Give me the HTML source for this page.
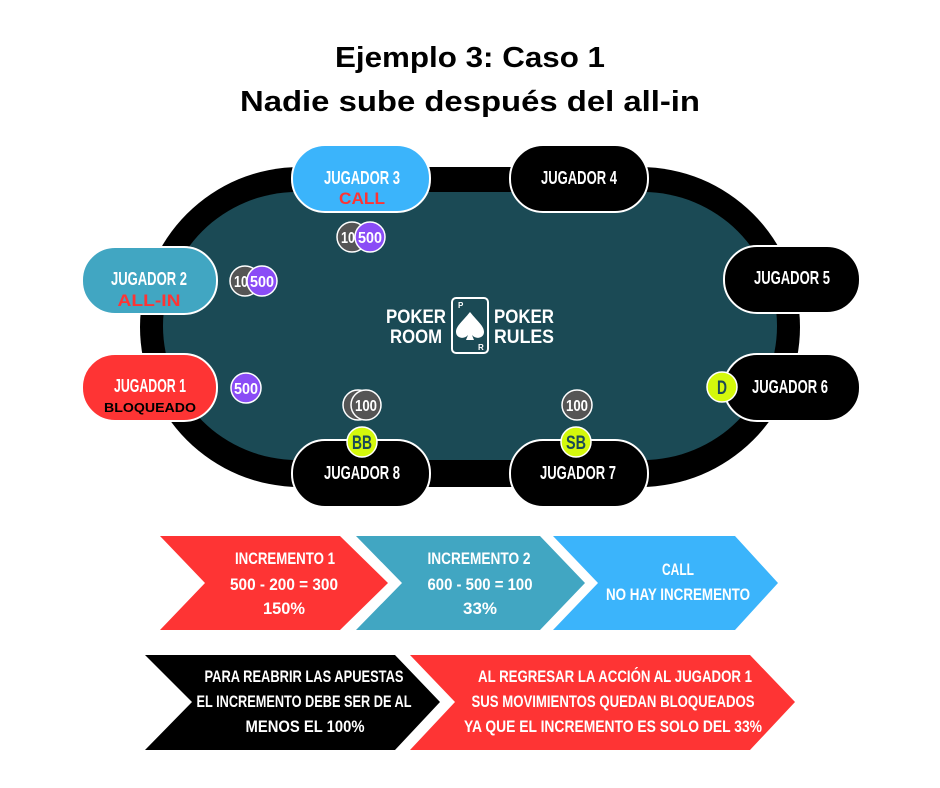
<!DOCTYPE html>
<html><head><meta charset="utf-8"><style>
html,body{margin:0;padding:0;background:#fff;}
svg{display:block}
.c{font-family:"Liberation Sans","DejaVu Sans",sans-serif;font-weight:bold;text-anchor:middle;}
</style></head><body>
<svg width="940" height="788" viewBox="0 0 940 788" xmlns="http://www.w3.org/2000/svg">
<rect width="940" height="788" fill="#fff"/>
<text x="470" y="67" font-family="Liberation Sans, sans-serif" font-weight="bold" font-size="29" text-anchor="middle" fill="#000" textLength="270" lengthAdjust="spacingAndGlyphs">Ejemplo 3: Caso 1</text>
<text x="470" y="111" font-family="Liberation Sans, sans-serif" font-weight="bold" font-size="29" text-anchor="middle" fill="#000" textLength="460" lengthAdjust="spacingAndGlyphs">Nadie sube después del all-in</text>

<rect x="140" y="167" width="660" height="320" rx="160" fill="#000"/>
<rect x="163" y="192" width="614" height="268" rx="134" fill="#1b4a55"/>

<!-- logo -->
<g fill="#fff" class="c" font-size="19" lengthAdjust="spacingAndGlyphs">
<text x="416" y="323" textLength="60" lengthAdjust="spacingAndGlyphs">POKER</text><text x="416" y="343" textLength="52" lengthAdjust="spacingAndGlyphs">ROOM</text>
<text x="524" y="323" textLength="60" lengthAdjust="spacingAndGlyphs">POKER</text><text x="524" y="343" textLength="60" lengthAdjust="spacingAndGlyphs">RULES</text>
</g>
<rect x="452" y="298" width="36" height="55" rx="4" fill="none" stroke="#fff" stroke-width="2"/>
<path d="M470 312 C462 322 456 326 456 332 C456 338 464 340 468 335 L466 340 L474 340 L472 335 C476 340 484 338 484 332 C484 326 478 322 470 312Z" fill="#fff"/>
<text x="458" y="308" font-size="8" fill="#fff" font-family="Liberation Sans,sans-serif" font-weight="bold">P</text>
<text x="478" y="350" font-size="8" fill="#fff" font-family="Liberation Sans,sans-serif" font-weight="bold">R</text>

<!-- pills -->
<g stroke="#fff" stroke-width="2">
<rect x="292" y="145" width="138" height="67" rx="33" fill="#3bb4fb"/>
<rect x="510" y="145" width="138" height="67" rx="33" fill="#000"/>
<rect x="82" y="247" width="135" height="67" rx="33" fill="#41a6c2"/>
<rect x="724" y="246" width="136" height="67" rx="33" fill="#000"/>
<rect x="82" y="354" width="135" height="67" rx="33" fill="#fe3434"/>
<rect x="724" y="354" width="136" height="67" rx="33" fill="#000"/>
<rect x="292" y="440" width="138" height="67" rx="33" fill="#000"/>
<rect x="510" y="440" width="138" height="67" rx="33" fill="#000"/>
</g>
<g class="c" fill="#fff" font-size="18">
<text x="362" y="184" textLength="76" lengthAdjust="spacingAndGlyphs">JUGADOR 3</text>
<text x="579" y="184" textLength="76" lengthAdjust="spacingAndGlyphs">JUGADOR 4</text>
<text x="149" y="285" textLength="76" lengthAdjust="spacingAndGlyphs">JUGADOR 2</text>
<text x="792" y="284" textLength="76" lengthAdjust="spacingAndGlyphs">JUGADOR 5</text>
<text x="150" y="392" textLength="72" lengthAdjust="spacingAndGlyphs">JUGADOR 1</text>
<text x="790" y="393" textLength="76" lengthAdjust="spacingAndGlyphs">JUGADOR 6</text>
<text x="362" y="479" textLength="76" lengthAdjust="spacingAndGlyphs">JUGADOR 8</text>
<text x="578" y="479" textLength="76" lengthAdjust="spacingAndGlyphs">JUGADOR 7</text>
</g>
<g font-family="Liberation Sans,sans-serif" font-weight="bold" text-anchor="middle">
<text x="362" y="204" font-size="17" fill="#fe3434" textLength="46" lengthAdjust="spacingAndGlyphs">CALL</text>
<text x="149" y="306" font-size="17" fill="#fe3434" textLength="63" lengthAdjust="spacingAndGlyphs">ALL-IN</text>
<text x="150" y="412" font-size="13" fill="#000" textLength="92" lengthAdjust="spacingAndGlyphs">BLOQUEADO</text>
</g>

<!-- chips -->
<g stroke="#fff" stroke-width="1.5">
<circle cx="352" cy="237" r="15" fill="#555"/>
<circle cx="370" cy="237" r="15" fill="#8a4cf6"/>
<circle cx="245" cy="281" r="15" fill="#555"/>
<circle cx="262" cy="281" r="15" fill="#8a4cf6"/>
<circle cx="246" cy="388" r="15" fill="#8a4cf6"/>
<circle cx="358" cy="405" r="15" fill="#555"/>
<circle cx="366" cy="405" r="15" fill="#555"/>
<circle cx="577" cy="405" r="15" fill="#555"/>
</g>
<g class="c" fill="#fff" font-size="16">
<text x="348" y="243" textLength="14" lengthAdjust="spacingAndGlyphs">10</text><text x="370" y="243" textLength="24" lengthAdjust="spacingAndGlyphs">500</text>
<text x="241" y="287" textLength="14" lengthAdjust="spacingAndGlyphs">10</text><text x="262" y="287" textLength="24" lengthAdjust="spacingAndGlyphs">500</text>
<text x="246" y="394" textLength="24" lengthAdjust="spacingAndGlyphs">500</text>
<text x="366" y="411" textLength="22" lengthAdjust="spacingAndGlyphs">100</text>
<text x="577" y="411" textLength="22" lengthAdjust="spacingAndGlyphs">100</text>
</g>
<g stroke="#fff" stroke-width="1.5" fill="#d4f80c">
<circle cx="362" cy="442" r="15"/><circle cx="576" cy="442" r="15"/><circle cx="722" cy="387" r="15"/>
</g>
<g class="c" fill="#1b4a55" font-size="19">
<text x="362" y="449" textLength="20" lengthAdjust="spacingAndGlyphs">BB</text><text x="576" y="449" textLength="20" lengthAdjust="spacingAndGlyphs">SB</text><text x="722" y="394" textLength="10" lengthAdjust="spacingAndGlyphs">D</text>
</g>

<!-- arrows -->
<polygon points="160,536 340,536 388,583 340,630 160,630 205,583" fill="#fe3434"/>
<polygon points="356,536 540,536 585,583 540,630 356,630 402,583" fill="#41a6c2"/>
<polygon points="553,536 735,536 778,583 735,630 553,630 598,583" fill="#3bb4fb"/>
<polygon points="145,655 395,655 440,702 395,750 145,750 192,702" fill="#000"/>
<polygon points="410,655 750,655 795,702 750,750 410,750 455,702" fill="#fe3434"/>
<g class="c" fill="#fff" font-size="17">
<text x="285" y="564" textLength="100" lengthAdjust="spacingAndGlyphs">INCREMENTO 1</text>
<text x="284" y="590" textLength="108" lengthAdjust="spacingAndGlyphs">500 - 200 = 300</text>
<text x="284" y="614" textLength="42" lengthAdjust="spacingAndGlyphs">150%</text>
<text x="479" y="564" textLength="103" lengthAdjust="spacingAndGlyphs">INCREMENTO 2</text>
<text x="480" y="590" textLength="105" lengthAdjust="spacingAndGlyphs">600 - 500 = 100</text>
<text x="480" y="614" textLength="34" lengthAdjust="spacingAndGlyphs">33%</text>
<text x="678" y="575" textLength="32" lengthAdjust="spacingAndGlyphs">CALL</text>
<text x="678" y="600" textLength="144" lengthAdjust="spacingAndGlyphs">NO HAY INCREMENTO</text>
<text x="304" y="682" textLength="199" lengthAdjust="spacingAndGlyphs">PARA REABRIR LAS APUESTAS</text>
<text x="304" y="707" textLength="215" lengthAdjust="spacingAndGlyphs">EL INCREMENTO DEBE SER DE AL</text>
<text x="305" y="732" textLength="119" lengthAdjust="spacingAndGlyphs">MENOS EL 100%</text>
<text x="615" y="682" textLength="274" lengthAdjust="spacingAndGlyphs">AL REGRESAR LA ACCIÓN AL JUGADOR 1</text>
<text x="613" y="707" textLength="283" lengthAdjust="spacingAndGlyphs">SUS MOVIMIENTOS QUEDAN BLOQUEADOS</text>
<text x="613" y="732" textLength="298" lengthAdjust="spacingAndGlyphs">YA QUE EL INCREMENTO ES SOLO DEL 33%</text>
</g>
</svg>
</body></html>
